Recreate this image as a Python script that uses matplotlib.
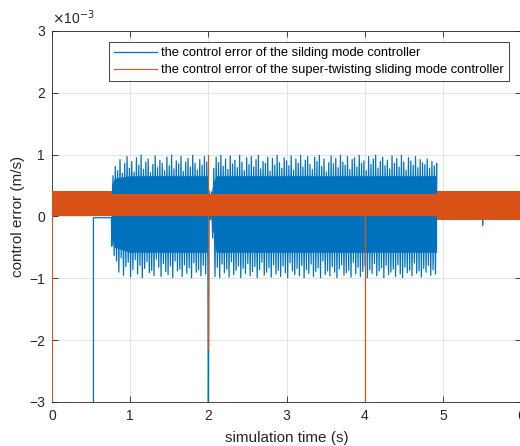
import matplotlib
matplotlib.use("Agg")
import matplotlib.pyplot as plt
import numpy as np

plt.rcParams['font.family'] = ['Liberation Sans', 'DejaVu Sans']

# values are in units of 1e-3 m/s
# sliding mode controller: chattering tips (upper / lower)
smc_hi_t0, smc_lo_t0, smc_step = 0.78, 0.765, 0.03
smc_hi = [0.66, 0.81, 0.74, 0.92, 0.70, 0.86, 0.97, 0.78, 0.89, 0.72, 0.95, 0.83,
          0.99, 0.76, 0.88, 0.93, 0.71, 0.84, 0.98, 0.79, 0.91, 0.86, 0.74, 0.96,
          0.82, 0.99, 0.77, 0.90, 0.85, 0.97, 0.73, 0.88, 0.94, 0.80, 0.99, 0.86,
          0.75, 0.92, 0.83, 0.97, 0.88, 0.42, 0.40, 0.78, 0.96, 0.87, 0.99, 0.81,
          0.93, 0.76, 0.98, 0.85, 0.91, 0.79, 0.99, 0.88, 0.74, 0.95, 0.84, 0.97,
          0.80, 0.92, 0.99, 0.77, 0.89, 0.86, 0.96, 0.73, 0.94, 0.83, 0.99, 0.87,
          0.78, 0.95, 0.90, 0.82, 0.98, 0.75, 0.93, 0.86, 0.99, 0.80, 0.91, 0.97,
          0.84, 0.76, 0.96, 0.89, 0.99, 0.81, 0.93, 0.72, 0.87, 0.98, 0.85, 0.94,
          0.79, 0.99, 0.88, 0.83, 0.97, 0.76, 0.92, 0.95, 0.80, 0.99, 0.86, 0.90,
          0.74, 0.97, 0.84, 0.93, 0.99, 0.78, 0.89, 0.96, 0.82, 0.91, 0.77, 0.98,
          0.86, 0.94, 0.80, 0.99, 0.88, 0.75, 0.95, 0.90, 0.83, 0.97, 0.79, 0.92,
          0.87, 0.84, 0.93, 0.78, 0.89, 0.82, 0.86]
smc_lo = [-0.48, -0.63, -0.72, -0.90, -0.67, -0.95, -0.81, -0.74, -0.98, -0.86, -0.70, -0.93,
          -0.79, -0.99, -0.84, -0.73, -0.91, -0.87, -0.96, -0.69, -0.82, -0.97, -0.76, -0.89,
          -0.94, -0.80, -0.99, -0.72, -0.88, -0.85, -0.97, -0.78, -0.92, -0.83, -0.99, -0.75,
          -0.90, -0.86, -0.96, -0.79, -0.93, -0.88, -0.05, -0.35, -0.97, -0.82, -0.99, -0.77,
          -0.91, -0.85, -0.98, -0.73, -0.94, -0.87, -0.80, -0.99, -0.84, -0.92, -0.76, -0.96,
          -0.89, -0.81, -0.99, -0.86, -0.74, -0.95, -0.90, -0.83, -0.98, -0.78, -0.93, -0.87,
          -0.97, -0.80, -0.91, -0.99, -0.75, -0.88, -0.94, -0.84, -0.96, -0.79, -0.99, -0.86,
          -0.92, -0.77, -0.97, -0.89, -0.83, -0.99, -0.72, -0.94, -0.88, -0.96, -0.81, -0.90,
          -0.99, -0.85, -0.78, -0.95, -0.91, -0.87, -0.98, -0.74, -0.93, -0.82, -0.97, -0.89,
          -0.80, -0.99, -0.86, -0.92, -0.76, -0.96, -0.88, -0.83, -0.99, -0.79, -0.94, -0.90,
          -0.85, -0.97, -0.78, -0.93, -0.99, -0.82, -0.91, -0.87, -0.96, -0.75, -0.92, -0.88,
          -0.98, -0.84, -0.90, -0.79, -0.95, -0.86, -0.93]
# dense core of the chattering band
core_t = [0.76, 0.80, 1.00, 1.99, 2.00, 2.03, 2.06, 2.10, 4.92]
core_hi = [0.50, 0.62, 0.66, 0.66, 0.30, 0.30, 0.55, 0.66, 0.66]
core_lo = [-0.35, -0.50, -0.58, -0.58, 0.00, 0.00, -0.25, -0.58, -0.58]
# transients of the sliding mode controller (time, value)
smc_events_t = [0.0, 0.53, 0.53, 0.76, 2.00, 4.92, 5.50, 5.51, 5.52, 6.0]
smc_events_v = [-4.0, -4.0, -0.02, -0.02, -4.0, 0.20, 0.20, -0.15, 0.20, 0.20]

# super-twisting controller band
stw_t = [0.0, 0.77, 0.77, 4.92, 4.92, 6.0]
stw_hi = [0.41, 0.41, 0.36, 0.36, 0.42, 0.42]
stw_lo = [0.00, 0.00, 0.01, 0.01, -0.05, -0.05]
stw_events_t = [0.0, 0.0, 2.0, 2.0, 2.0, 2.0, 4.0, 4.0, 4.0, 6.0]
stw_events_v = [-4.0, 0.20, 0.20, 1.0, -2.15, 0.20, 0.20, -4.0, 0.20, 0.20]

blue = '#0072BD'
orange = '#D95319'
dark = '#262626'

# merge chattering tips and transients in time order
pts = [(smc_hi_t0 + smc_step * i, v) for i, v in enumerate(smc_hi)]
pts += [(smc_lo_t0 + smc_step * i, v) for i, v in enumerate(smc_lo)]
pts += list(zip(smc_events_t, smc_events_v))
pts.sort(key=lambda p: p[0])
smc_t = [p[0] for p in pts]
smc_v = [p[1] for p in pts]

fig = plt.figure(figsize=(5.2, 4.46), dpi=100)
ax = fig.add_axes([0.1, 0.0987, 0.902, 0.8318])

ax.fill_between(core_t, core_lo, core_hi, color=blue, lw=0, zorder=2)
ax.plot(smc_t, smc_v, color=blue, lw=0.9, zorder=2,
        label='the control error of the silding mode controller')
ax.fill_between(stw_t, stw_lo, stw_hi, color=orange, lw=0, zorder=3)
ax.plot(stw_events_t, stw_events_v, color=orange, lw=0.8, zorder=3,
        label='the control error of the super-twisting sliding mode controller')

ax.set_xlim(0, 6)
ax.set_ylim(-3, 3)
ax.set_xticks(range(0, 7))
ax.set_yticks(range(-3, 4))
ax.grid(True, color='#dfdfdf', lw=0.6)
ax.set_axisbelow(True)
ax.tick_params(direction='in', length=4, width=0.6, colors=dark, labelsize=10,
               top=True, right=True, pad=5)
for s in ax.spines.values():
    s.set_color(dark)
    s.set_linewidth(0.6)

ax.set_xlabel('simulation time (s)', fontsize=11, color=dark, labelpad=6)
ax.set_ylabel('control error (m/s)', fontsize=11, color=dark, labelpad=3)
ax.text(0.0, 1.01, r'$\times$10$^{-3}$', transform=ax.transAxes, fontsize=10,
        color=dark, ha='left', va='bottom')

leg = ax.legend(loc='upper left', bbox_to_anchor=(109 / 520, 1 - 42 / 446),
                bbox_transform=fig.transFigure, fontsize=9.25, fancybox=False,
                framealpha=1, edgecolor=dark, handlelength=3.35,
                handletextpad=0.3, borderpad=0.4, labelspacing=0.4,
                borderaxespad=0)
leg.get_frame().set_linewidth(0.6)
for t in leg.get_texts():
    t.set_color('black')

fig.savefig('out.png', dpi=100)
